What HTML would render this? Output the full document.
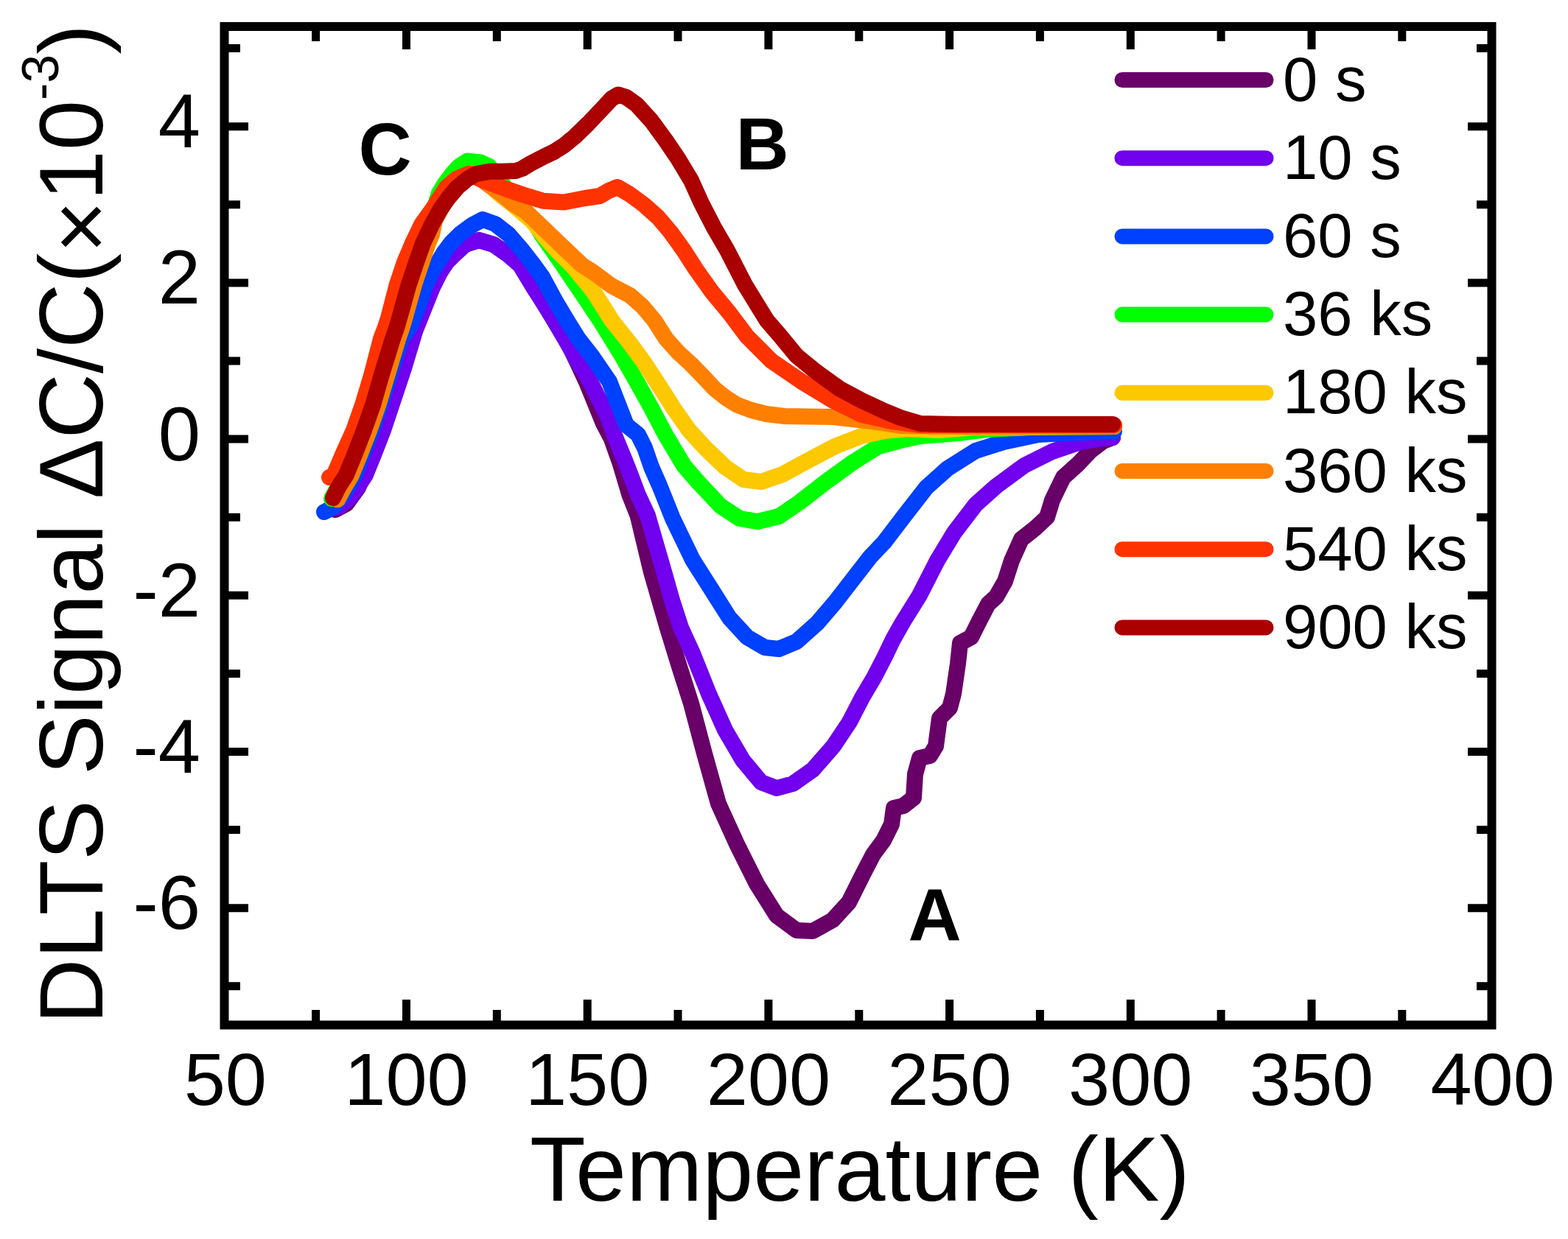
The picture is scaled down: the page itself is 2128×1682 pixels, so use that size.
<!DOCTYPE html>
<html><head><meta charset="utf-8"><title>DLTS Signal vs Temperature</title>
<style>
html,body{margin:0;padding:0;background:#fff;}
svg{display:block;}
text{font-family:"Liberation Sans",Arial,sans-serif;fill:#000;}
</style></head><body>
<svg xmlns="http://www.w3.org/2000/svg" width="2128" height="1682" viewBox="0 0 2128 1682">
<rect x="0" y="0" width="2128" height="1682" fill="#fff"/>

<g fill="none" stroke-width="22" stroke-linecap="round" stroke-linejoin="round">
<path d="M455.0,692.0 L470.0,684.0 L486.0,662.0 L500.0,630.0 L512.0,595.0 L525.0,555.0 L540.0,505.0 L555.0,460.0 L568.0,425.0 L580.0,397.0 L592.0,375.0 L606.0,356.0 L616.0,346.0 L631.0,332.0 L650.0,326.0 L670.0,332.0 L690.0,346.0 L706.0,360.0 L716.0,376.0 L730.0,398.0 L748.0,428.0 L760.0,448.0 L772.0,468.0 L785.0,495.0 L796.5,520.0 L808.0,548.0 L819.0,575.0 L830.0,596.0 L842.0,630.0 L854.5,672.0 L865.6,700.0 L883.8,776.0 L905.7,852.0 L922.0,905.0 L938.0,955.0 L956.0,1023.0 L975.0,1091.0 L1000.0,1146.0 L1027.0,1200.0 L1054.0,1243.0 L1081.0,1263.0 L1103.0,1264.0 L1130.0,1249.0 L1152.0,1225.0 L1171.0,1187.0 L1185.0,1160.0 L1199.0,1141.0 L1210.0,1119.0 L1213.0,1097.0 L1226.0,1094.0 L1240.0,1083.0 L1242.0,1051.0 L1248.0,1029.0 L1262.0,1026.0 L1270.0,1013.0 L1275.0,975.0 L1289.0,961.0 L1294.0,942.0 L1300.0,901.0 L1303.0,873.0 L1318.0,865.0 L1329.0,843.0 L1341.0,820.0 L1352.0,810.0 L1364.0,789.0 L1373.0,761.0 L1386.0,732.0 L1405.0,717.0 L1421.0,702.0 L1428.0,679.0 L1443.0,648.0 L1463.0,630.0 L1480.0,612.0 L1497.0,599.0 L1510.0,594.0" stroke="#680068"/>
<path d="M448.0,690.0 L460.0,688.0 L475.0,675.0 L486.0,660.0 L495.6,645.5 L508.0,615.0 L520.0,584.0 L533.0,545.0 L548.0,500.0 L563.0,450.0 L571.0,430.0 L579.0,410.0 L587.0,390.0 L597.0,370.0 L606.0,356.0 L616.0,346.0 L631.0,332.0 L650.0,326.0 L670.0,332.0 L690.0,346.0 L706.0,360.0 L724.0,390.0 L740.0,415.0 L753.0,436.0 L768.0,462.0 L785.0,492.0 L800.0,516.0 L812.0,540.0 L825.0,566.0 L836.0,596.0 L848.0,625.0 L857.0,648.0 L866.0,672.0 L879.0,700.0 L890.0,738.0 L901.0,776.0 L912.0,815.0 L924.0,852.0 L940.0,887.0 L962.0,942.0 L984.0,991.0 L1008.0,1032.0 L1033.0,1062.0 L1054.0,1070.0 L1076.0,1064.0 L1103.0,1045.0 L1131.0,1013.0 L1153.0,980.0 L1170.0,947.0 L1186.0,920.0 L1200.0,893.0 L1212.0,868.0 L1225.0,845.0 L1248.0,808.0 L1272.0,761.0 L1295.0,723.0 L1324.0,685.0 L1352.0,660.0 L1390.0,632.0 L1428.0,613.0 L1466.0,600.0 L1504.0,594.0 L1510.0,594.0" stroke="#7000ee"/>
<path d="M440.0,695.0 L452.0,689.0 L466.0,672.0 L481.6,645.5 L493.0,615.0 L505.0,584.0 L518.0,545.0 L532.0,500.0 L545.0,460.0 L556.3,444.0 L561.3,432.0 L570.0,410.0 L577.7,387.0 L586.0,370.0 L594.6,356.0 L603.0,342.0 L612.0,330.0 L625.0,317.0 L640.0,306.0 L655.0,298.0 L672.0,304.0 L690.0,318.0 L709.0,340.0 L723.0,358.0 L736.0,376.0 L755.0,411.0 L770.0,436.0 L785.0,460.0 L803.0,483.0 L827.0,518.0 L841.0,554.0 L850.0,577.0 L866.0,590.0 L875.0,608.0 L884.0,634.0 L895.0,659.0 L913.0,704.0 L940.0,760.0 L966.0,801.0 L990.0,839.0 L1014.0,865.0 L1038.0,879.0 L1057.0,881.0 L1081.0,871.0 L1109.0,846.0 L1133.0,818.0 L1157.0,787.0 L1181.0,756.0 L1200.0,736.0 L1229.0,698.0 L1257.0,662.0 L1286.0,636.0 L1324.0,612.0 L1362.0,600.0 L1409.0,590.0 L1466.0,587.0 L1512.0,586.0" stroke="#0040ff"/>
<path d="M450.0,677.0 L467.0,645.5 L480.0,615.0 L492.0,584.0 L504.0,550.0 L516.0,510.0 L531.0,460.0 L536.5,444.0 L540.0,432.0 L552.6,387.0 L563.0,356.0 L572.0,330.0 L582.0,305.0 L588.0,288.0 L595.6,263.0 L604.0,249.0 L613.4,236.5 L623.0,226.0 L634.5,218.5 L652.3,220.4 L664.0,226.0 L672.0,236.0 L682.0,250.0 L696.0,268.0 L712.0,285.0 L724.0,300.0 L736.0,320.0 L750.0,340.0 L764.0,360.0 L791.0,400.0 L815.0,436.0 L844.0,483.0 L864.0,518.0 L884.0,554.0 L903.0,590.0 L928.0,632.0 L947.0,654.0 L978.0,687.0 L1004.0,704.0 L1028.0,708.0 L1057.0,701.0 L1085.0,682.0 L1121.0,654.0 L1157.0,628.0 L1192.0,606.0 L1222.0,598.0 L1249.0,592.0 L1300.0,588.0 L1340.0,583.0 L1400.0,580.0 L1512.0,579.0" stroke="#00ff00"/>
<path d="M458.0,678.0 L466.0,663.0 L476.5,645.5 L489.0,615.0 L501.0,584.0 L513.0,550.0 L525.0,510.0 L540.0,460.0 L545.5,444.0 L549.0,432.0 L561.6,387.0 L572.0,356.0 L581.0,330.0 L586.0,318.0 L590.0,299.0 L603.0,275.0 L622.0,249.0 L643.0,235.0 L657.0,243.0 L676.0,262.0 L700.0,281.0 L722.0,300.0 L740.0,322.0 L754.0,338.0 L778.0,362.0 L805.0,395.0 L831.0,436.0 L855.0,466.0 L874.0,492.0 L891.0,518.0 L914.0,554.0 L935.0,584.0 L956.0,607.0 L984.0,634.0 L1009.0,651.0 L1033.0,654.0 L1062.0,644.0 L1097.0,625.0 L1133.0,606.0 L1169.0,592.0 L1200.0,585.0 L1230.0,582.0 L1275.0,584.0 L1320.0,580.0 L1512.0,579.0" stroke="#fcc800"/>
<path d="M458.0,678.0 L466.0,663.0 L476.5,645.5 L489.0,615.0 L501.0,584.0 L513.0,550.0 L525.0,510.0 L540.0,460.0 L545.5,444.0 L549.0,432.0 L561.6,387.0 L572.0,356.0 L581.0,330.0 L586.0,318.0 L590.0,299.0 L603.0,275.0 L622.0,249.0 L643.0,235.0 L662.0,250.0 L680.0,263.0 L697.0,277.0 L713.5,287.0 L724.0,297.0 L748.0,320.0 L771.0,342.0 L790.0,360.0 L805.0,369.5 L830.0,388.0 L855.0,401.0 L872.0,416.0 L888.0,435.0 L904.0,460.0 L920.0,478.0 L937.5,494.0 L955.0,512.0 L970.0,528.0 L985.0,540.0 L1000.0,549.5 L1020.0,557.0 L1040.0,562.0 L1065.0,565.0 L1131.0,566.0 L1183.0,572.0 L1222.0,578.0 L1300.0,579.0 L1512.0,579.0" stroke="#ff8000"/>
<path d="M447.0,648.0 L453.0,645.5 L466.0,615.0 L480.0,584.0 L492.0,550.0 L504.0,510.0 L517.0,460.0 L523.0,444.0 L527.0,432.0 L538.6,387.0 L549.0,356.0 L560.0,330.0 L572.0,305.0 L587.0,284.0 L597.0,268.0 L606.0,254.5 L620.0,242.6 L636.0,236.0 L658.0,246.0 L680.0,254.0 L708.5,264.0 L737.0,272.7 L765.6,274.5 L794.0,269.0 L814.0,266.0 L826.0,259.0 L838.0,254.0 L855.0,264.0 L874.0,278.0 L893.0,295.0 L910.0,315.0 L928.0,340.0 L944.0,365.0 L966.0,396.0 L990.0,425.0 L1013.6,456.5 L1047.0,490.0 L1088.0,518.0 L1131.0,544.0 L1170.0,563.0 L1210.0,572.0 L1250.0,577.0 L1300.0,577.0 L1512.0,577.0" stroke="#ff3300"/>
<path d="M452.0,676.0 L460.0,660.0 L469.5,645.5 L482.0,615.0 L494.0,584.0 L506.0,550.0 L519.0,505.0 L533.0,460.0 L538.5,444.0 L542.0,432.0 L554.6,387.0 L565.0,356.0 L574.2,330.0 L586.0,305.0 L597.6,284.2 L609.0,268.0 L620.5,254.5 L634.0,243.0 L646.3,236.0 L664.2,232.8 L680.0,232.8 L700.0,232.0 L708.5,229.0 L720.0,222.0 L737.0,213.2 L752.0,206.0 L766.0,197.0 L780.0,185.5 L798.0,168.0 L817.0,148.0 L830.0,134.0 L839.0,128.5 L850.0,132.0 L864.0,142.0 L884.0,164.0 L903.0,190.0 L920.0,215.0 L938.0,245.0 L952.0,276.0 L969.0,309.0 L987.0,340.0 L1011.5,387.6 L1040.7,435.0 L1058.0,455.0 L1081.0,483.0 L1108.0,505.0 L1140.0,528.0 L1170.0,544.0 L1200.0,558.0 L1222.0,567.0 L1249.0,575.0 L1300.0,576.0 L1400.0,576.0 L1510.0,576.0" stroke="#aa0000"/>
</g>
<path d="M551.5,1391.5 V1357 M551.5,36 V67 M797.2,1391.5 V1357 M797.2,36 V67 M1042.9,1391.5 V1357 M1042.9,36 V67 M1288.6,1391.5 V1357 M1288.6,36 V67 M1534.3,1391.5 V1357 M1534.3,36 V67 M1780.0,1391.5 V1357 M1780.0,36 V67 M428.6,1391.5 V1371 M428.6,36 V56 M674.3,1391.5 V1371 M674.3,36 V56 M920.0,1391.5 V1371 M920.0,36 V56 M1165.8,1391.5 V1371 M1165.8,36 V56 M1411.4,1391.5 V1371 M1411.4,36 V56 M1657.1,1391.5 V1371 M1657.1,36 V56 M1902.8,1391.5 V1371 M1902.8,36 V56 M304.5,1232.7 H337 M2024.5,1232.7 H1992 M304.5,1020.5 H337 M2024.5,1020.5 H1992 M304.5,808.3 H337 M2024.5,808.3 H1992 M304.5,596.1 H337 M2024.5,596.1 H1992 M304.5,383.9 H337 M2024.5,383.9 H1992 M304.5,171.7 H337 M2024.5,171.7 H1992 M304.5,1338.8 H326 M2024.5,1338.8 H2004 M304.5,1126.6 H326 M2024.5,1126.6 H2004 M304.5,914.4 H326 M2024.5,914.4 H2004 M304.5,702.2 H326 M2024.5,702.2 H2004 M304.5,490.0 H326 M2024.5,490.0 H2004 M304.5,277.8 H326 M2024.5,277.8 H2004 M304.5,65.6 H326 M2024.5,65.6 H2004" stroke="#000" stroke-width="11" fill="none"/>
<rect x="304.5" y="36" width="1720.0" height="1355.5" fill="none" stroke="#000" stroke-width="12"/>
<text x="305.8" y="1500" font-size="101" text-anchor="middle">50</text>
<text x="551.5" y="1500" font-size="101" text-anchor="middle">100</text>
<text x="797.2" y="1500" font-size="101" text-anchor="middle">150</text>
<text x="1042.9" y="1500" font-size="101" text-anchor="middle">200</text>
<text x="1288.6" y="1500" font-size="101" text-anchor="middle">250</text>
<text x="1534.3" y="1500" font-size="101" text-anchor="middle">300</text>
<text x="1780.0" y="1500" font-size="101" text-anchor="middle">350</text>
<text x="2025.7" y="1500" font-size="101" text-anchor="middle">400</text>
<text x="272" y="1261.2" font-size="103" text-anchor="end">-6</text>
<text x="272" y="1049.0" font-size="103" text-anchor="end">-4</text>
<text x="272" y="836.8" font-size="103" text-anchor="end">-2</text>
<text x="272" y="624.6" font-size="103" text-anchor="end">0</text>
<text x="272" y="412.4" font-size="103" text-anchor="end">2</text>
<text x="272" y="200.2" font-size="103" text-anchor="end">4</text>
<text x="721" y="1630" font-size="124" transform="translate(-2,0)">Temperature (K)</text>
<text transform="translate(139,1390) rotate(-90)" font-size="122.5">DLTS Signal ΔC/C(<tspan dy="12">×</tspan><tspan dy="-12">10</tspan><tspan dy="-60" font-size="70">-3</tspan><tspan dy="60">)</tspan></text>
<text x="486.5" y="236.5" font-size="100" font-weight="bold">C</text>
<text x="998.4" y="230" font-size="100" font-weight="bold">B</text>
<text x="1232.4" y="1277" font-size="100" font-weight="bold">A</text>
<line x1="1523" y1="108.5" x2="1718" y2="108.5" stroke="#680068" stroke-width="21" stroke-linecap="round"/>
<text x="1741" y="136.5" font-size="85">0 s</text>
<line x1="1523" y1="214.7" x2="1718" y2="214.7" stroke="#7000ee" stroke-width="21" stroke-linecap="round"/>
<text x="1741" y="242.7" font-size="85">10 s</text>
<line x1="1523" y1="320.9" x2="1718" y2="320.9" stroke="#0040ff" stroke-width="21" stroke-linecap="round"/>
<text x="1741" y="348.9" font-size="85">60 s</text>
<line x1="1523" y1="427.1" x2="1718" y2="427.1" stroke="#00ff00" stroke-width="21" stroke-linecap="round"/>
<text x="1741" y="455.1" font-size="85">36 ks</text>
<line x1="1523" y1="533.3" x2="1718" y2="533.3" stroke="#fcc800" stroke-width="21" stroke-linecap="round"/>
<text x="1741" y="561.3" font-size="85">180 ks</text>
<line x1="1523" y1="639.5" x2="1718" y2="639.5" stroke="#ff8000" stroke-width="21" stroke-linecap="round"/>
<text x="1741" y="667.5" font-size="85">360 ks</text>
<line x1="1523" y1="745.7" x2="1718" y2="745.7" stroke="#ff3300" stroke-width="21" stroke-linecap="round"/>
<text x="1741" y="773.7" font-size="85">540 ks</text>
<line x1="1523" y1="851.9" x2="1718" y2="851.9" stroke="#aa0000" stroke-width="21" stroke-linecap="round"/>
<text x="1741" y="879.9" font-size="85">900 ks</text>
</svg></body></html>
